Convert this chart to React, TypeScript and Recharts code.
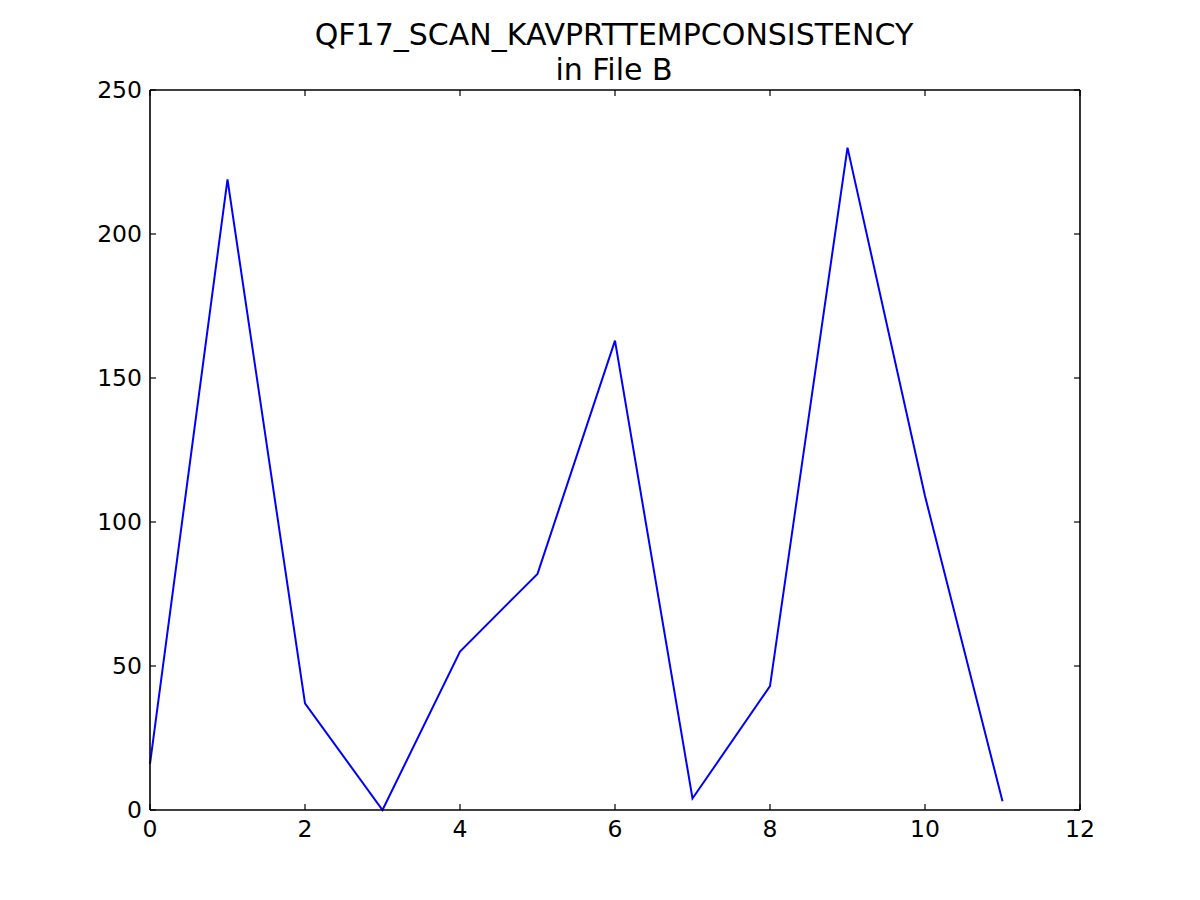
import React from 'react';
import { LineChart, Line, XAxis, YAxis } from 'recharts';

const xValues = [0, 1, 2, 3, 4, 5, 6, 7, 8, 9, 10, 11];
const yValues = [16, 219, 37, 0, 55, 82, 163, 4, 43, 230, 109, 3];
const xTicks = [0, 2, 4, 6, 8, 10, 12];
const yTicks = [0, 50, 100, 150, 200, 250];
const titleLines = ['QF17_SCAN_KAVPRTTEMPCONSISTENCY', 'in File B'];

const data = xValues.map((x, i) => ({ x, y: yValues[i] }));

const FONT = '"DejaVu Sans", sans-serif';
const TICK_FS = 23.5;
const TICK_LEN = 6;

const LeftTick = (props: any) => {
  const { x, y, payload } = props;
  return (
    <g>
      <line x1={x + 8} y1={y} x2={x + 8 + TICK_LEN} y2={y} stroke="#000" strokeWidth={1.2} />
      <text x={x} y={y} textAnchor="end" dominantBaseline="central" fontFamily={FONT} fontSize={TICK_FS} fill="#000">
        {payload.value}
      </text>
    </g>
  );
};

const BottomTick = (props: any) => {
  const { x, y, payload } = props;
  return (
    <g>
      <line x1={x} y1={y - 9} x2={x} y2={y - 9 - TICK_LEN} stroke="#000" strokeWidth={1.2} />
      <text x={x} y={y} textAnchor="middle" dominantBaseline="hanging" fontFamily={FONT} fontSize={TICK_FS} fill="#000">
        {payload.value}
      </text>
    </g>
  );
};

const TopTick = (props: any) => {
  const { x, y } = props;
  return <line x1={x} y1={y} x2={x} y2={y + TICK_LEN} stroke="#000" strokeWidth={1.2} />;
};

const RightTick = (props: any) => {
  const { x, y } = props;
  return <line x1={x} y1={y} x2={x - TICK_LEN} y2={y} stroke="#000" strokeWidth={1.2} />;
};

export default function App() {
  return (
    <div style={{ position: 'absolute', left: 0, top: 0, width: 1200, height: 900, background: '#fff' }}>
      {titleLines.map((t, i) => (
        <div
          key={i}
          style={{
            position: 'absolute',
            left: 0,
            width: 1228,
            top: 35 + i * 35 - 18,
            height: 36,
            lineHeight: '36px',
            textAlign: 'center',
            fontFamily: FONT,
            fontSize: 30,
            color: '#000',
            whiteSpace: 'nowrap',
          }}
        >
          {t}
        </div>
      ))}
      <LineChart width={1200} height={900} data={data} margin={{ top: 60, right: 90, bottom: 30, left: 90 }}>
        <XAxis
          xAxisId="bottom"
          dataKey="x"
          type="number"
          domain={[0, 12]}
          ticks={xTicks}
          height={60}
          tickSize={0}
          tickMargin={9}
          tickLine={false}
          axisLine={{ stroke: '#000', strokeWidth: 1.6 }}
          tick={<BottomTick />}
          interval={0}
        />
        <XAxis
          xAxisId="top"
          orientation="top"
          dataKey="x"
          type="number"
          domain={[0, 12]}
          ticks={xTicks}
          height={30}
          tickSize={0}
          tickMargin={0}
          tickLine={false}
          axisLine={{ stroke: '#000', strokeWidth: 1.6 }}
          tick={<TopTick />}
          interval={0}
        />
        <YAxis
          yAxisId="left"
          type="number"
          domain={[0, 250]}
          ticks={yTicks}
          width={60}
          tickSize={0}
          tickMargin={8}
          tickLine={false}
          axisLine={{ stroke: '#000', strokeWidth: 1.6 }}
          tick={<LeftTick />}
          interval={0}
        />
        <YAxis
          yAxisId="right"
          orientation="right"
          type="number"
          domain={[0, 250]}
          ticks={yTicks}
          width={30}
          tickSize={0}
          tickMargin={0}
          tickLine={false}
          axisLine={{ stroke: '#000', strokeWidth: 1.6 }}
          tick={<RightTick />}
          interval={0}
        />
        <Line
          xAxisId="top"
          yAxisId="right"
          dataKey="y"
          type="linear"
          stroke="none"
          dot={false}
          activeDot={false}
          isAnimationActive={false}
          legendType="none"
        />
        <Line
          xAxisId="bottom"
          yAxisId="left"
          dataKey="y"
          type="linear"
          stroke="#0000ff"
          strokeWidth={2}
          dot={false}
          activeDot={false}
          isAnimationActive={false}
        />
      </LineChart>
    </div>
  );
}
